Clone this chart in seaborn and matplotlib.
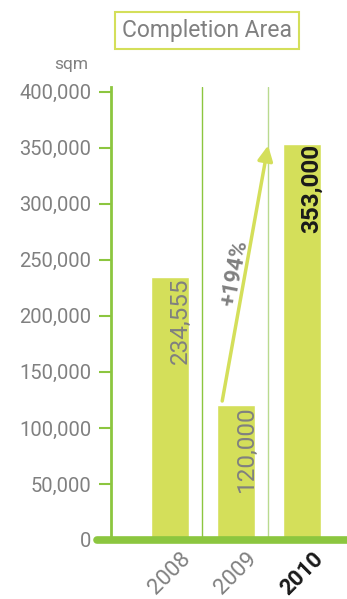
import matplotlib
matplotlib.use("Agg")
import matplotlib.pyplot as plt
import seaborn as sns
import pandas as pd

sns.set_style("white")
plt.rcParams["font.family"] = ["Roboto", "DejaVu Sans"]

years = ["2008", "2009", "2010"]
areas = [234555, 120000, 353000]
area_labels = ["234,555", "120,000", "353,000"]
yticks = [0, 50000, 100000, 150000, 200000, 250000, 300000, 350000, 400000]
ytick_labels = ["0", "50,000", "100,000", "150,000", "200,000", "250,000",
                "300,000", "350,000", "400,000"]
growth = "+194%"

bar_col = "#d4df5a"
axis_green = "#8cc63f"
grey = "#808080"

df = pd.DataFrame({"year": years, "area": areas})

fig = plt.figure(figsize=(3.47, 5.99), dpi=100)
ax = fig.add_axes([0.32, 0.0985, 0.68, 0.756])

sns.barplot(data=df, x="year", y="area", color=bar_col, saturation=1,
            width=0.58, ax=ax)

ax.set_xlim(-0.894, 2.68)
ax.set_ylim(0, 404000)
ax.set_yticks(yticks)
ax.set_yticklabels(ytick_labels, color=grey, fontsize=14.5)
ax.tick_params(axis="y", length=9, width=1.5, color=axis_green, pad=5, left=True)
ax.set_xticks(range(len(years)))
ax.set_xticklabels(years, rotation=45, fontsize=16, color=grey, ha="center")
ax.tick_params(axis="x", length=0, pad=6)
xl = ax.get_xticklabels()
xl[-1].set_color("#1a1a1a")
xl[-1].set_fontweight("bold")
ax.set_xlabel("")
ax.set_ylabel("")

for s in ["top", "right", "bottom"]:
    ax.spines[s].set_visible(False)
ax.spines["left"].set_color(axis_green)
ax.spines["left"].set_linewidth(2)

# dividers between years
ax.axvline(0.485, color="#8cc63f", lw=1)
ax.axvline(1.485, color="#b9da8f", lw=1)

# thick base line
ax.axhline(0, xmin=-0.06, xmax=1, color=axis_green, lw=5.5, clip_on=False, zorder=5)

# value labels inside bars
for i, (v, lab) in enumerate(zip(areas, area_labels)):
    bold = i == len(areas) - 1
    ax.text(i + 0.15, v, lab, rotation=90, ha="center", va="top",
            fontsize=17.5, color="#1a1a1a" if bold else grey,
            fontweight="bold" if bold else "normal")

# growth arrow
ax.annotate("", xy=(1.485, 352000), xytext=(0.79, 124000),
            arrowprops=dict(arrowstyle="-|>,head_length=0.9,head_width=0.45",
                            color=bar_col, lw=2.5, shrinkA=0, shrinkB=0))
ax.text(0.98, 238000, growth, rotation=79, ha="center", va="center",
        fontsize=16, fontweight="bold", color=grey)

fig.text(0.255, 0.893, "sqm", ha="right", va="center", fontsize=12.5,
         color=grey)
fig.text(0.597, 0.949, "Completion Area", ha="center", va="center",
         fontsize=16.5, color=grey,
         bbox=dict(boxstyle="square,pad=0.3", fc="white", ec=bar_col, lw=1.5))

fig.savefig("out.png", dpi=100)
